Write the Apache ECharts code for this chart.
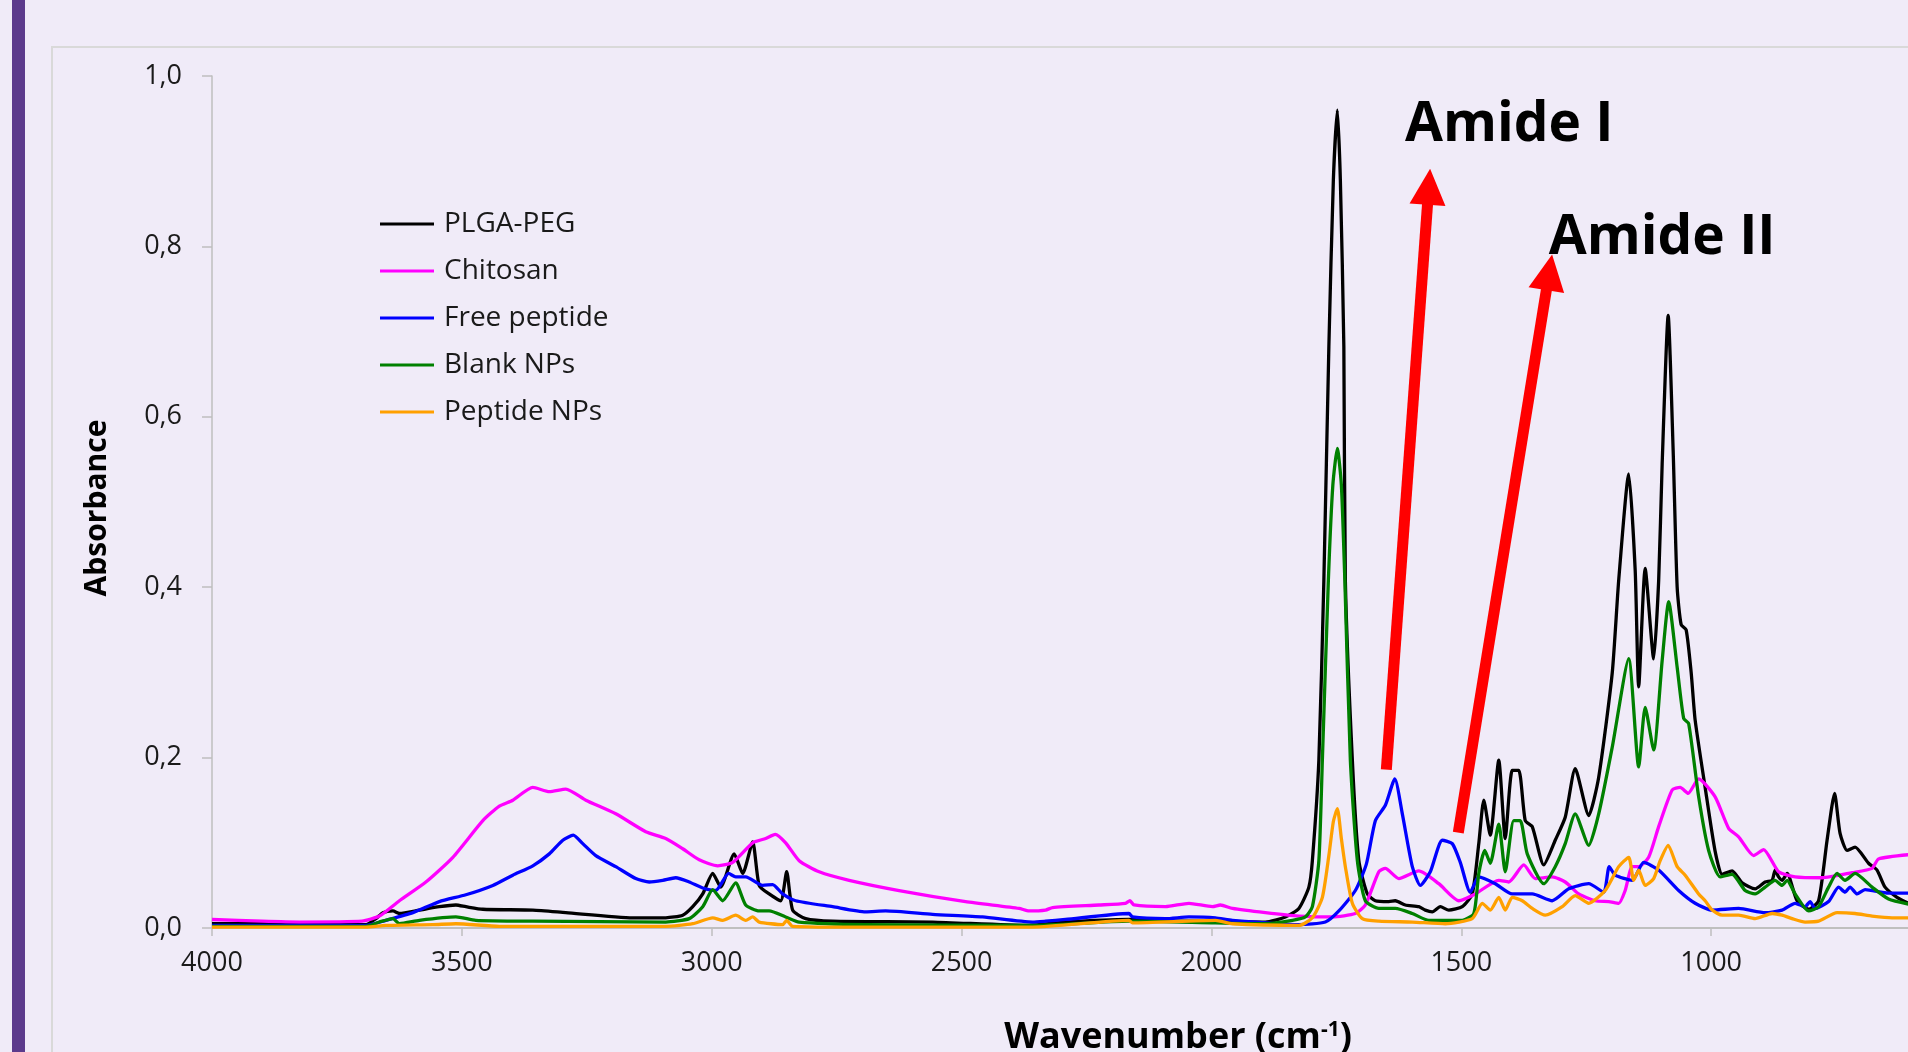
<!DOCTYPE html>
<html>
<head>
<meta charset="utf-8">
<title>FTIR spectra – PLGA-PEG / chitosan nanoparticles</title>
<script src="https://cdn.jsdelivr.net/npm/echarts@6/dist/echarts.min.js"></script>
<style>
  html, body { margin: 0; padding: 0; background: #F0EBF8; }
  #chart { width: 1908px; height: 1052px; }
</style>
</head>
<body>
<div id="chart"></div>
<script>
// Series names and colours (legend order)
const seriesNames = ['PLGA-PEG', 'Chitosan', 'Free peptide', 'Blank NPs', 'Peptide NPs'];
const seriesColors = ['#000000', '#FF00FF', '#0000FF', '#008000', '#FFA000'];

// Spectra: [wavenumber (cm-1), absorbance]
const plgaPeg = [
  [4000,0.005],[3900,0.005],[3800,0.004],[3692,0.004],[3672,0.011],[3658,0.018],[3638,0.020],[3625,0.017],
  [3585,0.021],[3545,0.025],[3512,0.027],[3492,0.025],[3458,0.022],[3358,0.021],[3292,0.018],[3158,0.012],
  [3092,0.012],[3058,0.015],[3038,0.025],[3018,0.040],[2998,0.064],[2982,0.048],[2955,0.087],[2938,0.064],
  [2918,0.101],[2905,0.050],[2885,0.040],[2862,0.032],[2850,0.066],[2838,0.021],[2812,0.011],[2758,0.008],
  [2558,0.007],[2365,0.003],[2292,0.007],[2165,0.010],[2092,0.008],[1992,0.008],[1892,0.007],[1852,0.013],
  [1825,0.023],[1805,0.048],[1798,0.079],[1785,0.197],[1775,0.408],[1765,0.682],[1756,0.878],[1748,0.960],
  [1742,0.878],[1735,0.682],[1732,0.408],[1718,0.197],[1705,0.079],[1688,0.040],[1672,0.032],[1645,0.031],
  [1632,0.032],[1612,0.027],[1585,0.025],[1572,0.021],[1558,0.019],[1542,0.025],[1525,0.021],[1498,0.025],
  [1478,0.040],[1465,0.099],[1455,0.150],[1442,0.109],[1425,0.197],[1412,0.105],[1398,0.185],[1385,0.185],
  [1372,0.126],[1358,0.119],[1335,0.074],[1312,0.103],[1292,0.130],[1272,0.187],[1245,0.132],[1225,0.177],
  [1198,0.299],[1185,0.408],[1165,0.533],[1152,0.420],[1145,0.283],[1132,0.422],[1115,0.316],[1105,0.408],
  [1098,0.545],[1086,0.719],[1076,0.560],[1068,0.400],[1060,0.356],[1050,0.350],[1040,0.300],[1032,0.244],
  [1012,0.165],[992,0.090],[978,0.063],[958,0.067],[938,0.053],[912,0.046],[892,0.054],[878,0.056],
  [872,0.068],[865,0.060],[858,0.056],[848,0.064],[828,0.032],[805,0.022],[785,0.032],[768,0.103],
  [753,0.158],[742,0.111],[728,0.091],[712,0.095],[685,0.076],[668,0.068],[652,0.048],[628,0.036],[605,0.029]
];

const chitosan = [
  [4000,0.010],[3900,0.008],[3825,0.007],[3700,0.008],[3665,0.014],[3625,0.032],[3572,0.054],[3518,0.083],
  [3458,0.126],[3425,0.143],[3398,0.150],[3358,0.165],[3325,0.160],[3292,0.163],[3252,0.150],[3192,0.134],
  [3132,0.113],[3092,0.105],[3058,0.093],[3025,0.080],[2988,0.073],[2958,0.077],[2918,0.100],[2892,0.105],
  [2873,0.110],[2852,0.100],[2825,0.079],[2785,0.066],[2725,0.056],[2625,0.044],[2492,0.031],[2385,0.023],
  [2365,0.020],[2332,0.021],[2318,0.024],[2225,0.027],[2172,0.029],[2163,0.032],[2155,0.027],[2092,0.025],
  [2045,0.029],[1998,0.025],[1982,0.027],[1958,0.023],[1892,0.018],[1825,0.014],[1758,0.013],[1712,0.017],
  [1692,0.027],[1665,0.066],[1652,0.070],[1625,0.058],[1585,0.067],[1545,0.052],[1505,0.032],[1472,0.040],
  [1425,0.056],[1405,0.054],[1375,0.074],[1352,0.058],[1318,0.060],[1292,0.054],[1265,0.040],[1232,0.032],
  [1205,0.031],[1185,0.029],[1172,0.044],[1158,0.072],[1145,0.072],[1125,0.083],[1105,0.119],[1078,0.162],
  [1062,0.165],[1046,0.158],[1025,0.175],[992,0.154],[965,0.117],[945,0.107],[915,0.085],[895,0.092],
  [865,0.066],[832,0.060],[778,0.059],[718,0.065],[678,0.070],[665,0.081],[605,0.086]
];

const freePeptide = [
  [4000,0.003],[3800,0.003],[3692,0.003],[3652,0.009],[3598,0.018],[3545,0.031],[3492,0.039],[3438,0.050],
  [3398,0.062],[3358,0.073],[3325,0.087],[3298,0.103],[3277,0.109],[3258,0.099],[3232,0.085],[3192,0.072],
  [3152,0.058],[3125,0.054],[3098,0.056],[3072,0.059],[3045,0.054],[3018,0.047],[2992,0.044],[2966,0.064],
  [2952,0.060],[2932,0.060],[2898,0.050],[2878,0.051],[2858,0.040],[2832,0.032],[2758,0.025],[2692,0.019],
  [2652,0.020],[2558,0.016],[2458,0.013],[2358,0.007],[2332,0.008],[2292,0.010],[2165,0.017],[2158,0.013],
  [2092,0.011],[2045,0.013],[1992,0.012],[1958,0.009],[1825,0.004],[1772,0.007],[1745,0.020],[1712,0.044],
  [1690,0.075],[1672,0.126],[1652,0.144],[1633,0.175],[1618,0.134],[1598,0.072],[1582,0.050],[1562,0.066],
  [1538,0.103],[1518,0.099],[1502,0.077],[1482,0.042],[1465,0.060],[1432,0.052],[1398,0.040],[1358,0.040],
  [1318,0.032],[1285,0.046],[1245,0.052],[1215,0.042],[1204,0.072],[1192,0.062],[1158,0.056],[1135,0.077],
  [1105,0.068],[1065,0.044],[1032,0.029],[998,0.021],[945,0.023],[892,0.018],[858,0.021],[832,0.029],
  [812,0.025],[802,0.031],[792,0.023],[765,0.031],[745,0.048],[732,0.042],[722,0.048],[708,0.040],
  [692,0.045],[645,0.041],[605,0.041]
];

const blankNPs = [
  [4000,0.002],[3800,0.002],[3692,0.002],[3665,0.007],[3638,0.011],[3625,0.005],[3585,0.009],[3512,0.013],
  [3472,0.009],[3358,0.008],[3092,0.007],[3045,0.011],[3018,0.025],[2998,0.045],[2978,0.032],[2952,0.053],
  [2932,0.027],[2905,0.020],[2885,0.020],[2852,0.013],[2825,0.007],[2692,0.004],[2358,0.003],[2165,0.008],
  [1992,0.006],[1892,0.005],[1838,0.009],[1812,0.013],[1798,0.025],[1785,0.079],[1778,0.197],[1766,0.408],
  [1757,0.520],[1748,0.563],[1740,0.520],[1733,0.408],[1722,0.197],[1708,0.079],[1692,0.032],[1665,0.023],
  [1632,0.023],[1598,0.017],[1565,0.009],[1498,0.009],[1475,0.017],[1465,0.064],[1453,0.091],[1442,0.076],
  [1425,0.122],[1412,0.066],[1395,0.126],[1382,0.126],[1368,0.087],[1335,0.052],[1312,0.072],[1292,0.099],
  [1272,0.134],[1245,0.097],[1225,0.134],[1198,0.212],[1165,0.316],[1145,0.189],[1132,0.259],[1115,0.209],
  [1098,0.314],[1085,0.383],[1068,0.306],[1055,0.246],[1045,0.240],[1025,0.154],[1005,0.091],[982,0.060],
  [958,0.063],[932,0.044],[912,0.040],[892,0.048],[872,0.056],[858,0.050],[848,0.056],[832,0.040],
  [805,0.020],[785,0.025],[765,0.048],[748,0.064],[732,0.056],[712,0.064],[678,0.048],[645,0.034],[605,0.028]
];

const peptideNPs = [
  [4000,0.001],[3800,0.001],[3692,0.001],[3652,0.003],[3558,0.004],[3512,0.005],[3425,0.002],[3092,0.002],
  [3038,0.005],[2998,0.012],[2978,0.009],[2952,0.015],[2932,0.009],[2918,0.013],[2905,0.007],[2858,0.004],
  [2850,0.009],[2838,0.002],[2692,0.001],[2358,0.001],[2165,0.009],[2158,0.006],[1992,0.009],[1958,0.005],
  [1825,0.003],[1798,0.012],[1778,0.036],[1765,0.085],[1756,0.125],[1748,0.140],[1740,0.105],[1732,0.072],
  [1718,0.029],[1698,0.011],[1665,0.008],[1598,0.007],[1532,0.005],[1478,0.011],[1458,0.029],[1442,0.021],
  [1425,0.036],[1412,0.021],[1398,0.036],[1378,0.032],[1358,0.023],[1332,0.015],[1298,0.025],[1272,0.038],
  [1245,0.029],[1212,0.044],[1185,0.072],[1165,0.083],[1155,0.056],[1145,0.068],[1132,0.050],[1115,0.058],
  [1102,0.079],[1086,0.097],[1068,0.072],[1052,0.062],[1025,0.040],[1012,0.032],[998,0.021],[978,0.015],
  [945,0.015],[912,0.011],[878,0.017],[858,0.015],[838,0.011],[812,0.007],[785,0.008],[748,0.018],
  [712,0.017],[678,0.014],[638,0.012],[605,0.012]
];

const spectra = [plgaPeg, chitosan, freePeptide, blankNPs, peptideNPs];

// Band annotations, in axis units: arrow tail -> arrow head, and label anchors
const amideArrows = [
  [[1650, 0.186], [1565, 0.870]],
  [[1506, 0.112], [1324, 0.7695]]
];
const amideLabels = [
  { text: 'Amide I',  at: [1404, 0.942] },
  { text: 'Amide II', at: [1098, 0.810] }
];

const FONT = 'Open Sans';
const AXIS_GREY = '#BFBFBF';

const chart = echarts.init(document.getElementById('chart'), null, { renderer: 'canvas' });

const lineSeries = spectra.map((data, i) => ({
  name: seriesNames[i],
  type: 'line',
  data: data,
  symbol: 'none',
  showSymbol: false,
  smooth: 0.2,
  color: seriesColors[i],
  lineStyle: { width: 3.3, color: seriesColors[i], join: 'round' },
  emphasis: { disabled: true },
  z: 2 + i
}));

// Red arrows and bold labels for the amide bands
const annotationSeries = {
  name: 'annotations',
  type: 'line',
  data: [],
  silent: true,
  z: 10,
  markLine: {
    silent: true,
    symbol: ['none', 'triangle'],
    symbolSize: 36,
    label: { show: false },
    emphasis: { disabled: true },
    lineStyle: { color: '#FF0000', width: 11, type: 'solid', cap: 'butt' },
    itemStyle: { color: '#FF0000' },
    data: amideArrows.map(a => [{ coord: a[0] }, { coord: a[1] }])
  },
  markPoint: {
    silent: true,
    symbol: 'circle',
    symbolSize: 1,
    itemStyle: { color: 'rgba(0,0,0,0)' },
    label: {
      show: true,
      position: 'inside',
      fontFamily: FONT,
      fontWeight: 'bold',
      fontSize: 55,
      color: '#000000',
      formatter: p => p.name
    },
    data: amideLabels.map(l => ({ name: l.text, coord: l.at }))
  }
};

const option = {
  animation: false,
  backgroundColor: '#F0EBF8',
  textStyle: { fontFamily: FONT },
  graphic: [
    { type: 'rect', silent: true, z: -10,
      shape: { x: 12, y: 0, width: 13, height: 1052 },
      style: { fill: '#5C3A8C' } },
    { type: 'rect', silent: true, z: -10,
      shape: { x: 52, y: 47, width: 2000, height: 1200 },
      style: { fill: 'none', stroke: '#D9D9D9', lineWidth: 2 } }
  ],
  legend: {
    data: seriesNames,
    orient: 'vertical',
    left: 375,
    top: 204,
    icon: 'rect',
    itemWidth: 54,
    itemHeight: 3,
    itemGap: 17,
    selectedMode: false,
    textStyle: { fontFamily: FONT, fontSize: 28, color: '#1a1a1a', lineHeight: 30, padding: [0, 0, 0, 5] }
  },
  grid: {
    left: 212,
    top: 76,
    width: 1749,
    height: 852,
    containLabel: false,
    outerBoundsMode: 'none'
  },
  xAxis: {
    type: 'value',
    inverse: true,
    min: 500,
    max: 4000,
    interval: 500,
    axisLine: { show: true, lineStyle: { color: AXIS_GREY, width: 2 } },
    axisTick: { show: true, length: 8, lineStyle: { color: AXIS_GREY, width: 1.5 } },
    splitLine: { show: false },
    axisLabel: { margin: 22, fontFamily: FONT, fontSize: 27, color: '#1a1a1a', formatter: v => String(v) },
    name: '{t|Wavenumber (cm}{s|-1}{t|)}',
    nameLocation: 'middle',
    nameGap: 92,
    nameTextStyle: {
      padding: [0, 0, 0, 183],
      rich: {
        t: { fontFamily: FONT, fontSize: 36, fontWeight: 'bold', color: '#000000' },
        s: { fontFamily: FONT, fontSize: 21, fontWeight: 'bold', color: '#000000', padding: [0, 0, 15, 0] }
      }
    }
  },
  yAxis: {
    type: 'value',
    min: 0,
    max: 1,
    interval: 0.2,
    axisLine: { show: true, lineStyle: { color: AXIS_GREY, width: 1.5 } },
    axisTick: { show: true, length: 10, lineStyle: { color: AXIS_GREY, width: 1.5 } },
    splitLine: { show: false },
    axisLabel: {
      margin: 30,
      fontFamily: FONT,
      fontSize: 27,
      color: '#1a1a1a',
      formatter: v => v.toFixed(1).replace('.', ',')
    },
    name: 'Absorbance',
    nameLocation: 'middle',
    nameRotate: 90,
    nameGap: 100,
    nameTextStyle: { fontFamily: FONT, fontSize: 30, fontWeight: 'bold', color: '#000000', padding: [0, 12, 0, 0] }
  },
  series: lineSeries.concat([annotationSeries])
};

chart.setOption(option);
</script>
</body>
</html>
